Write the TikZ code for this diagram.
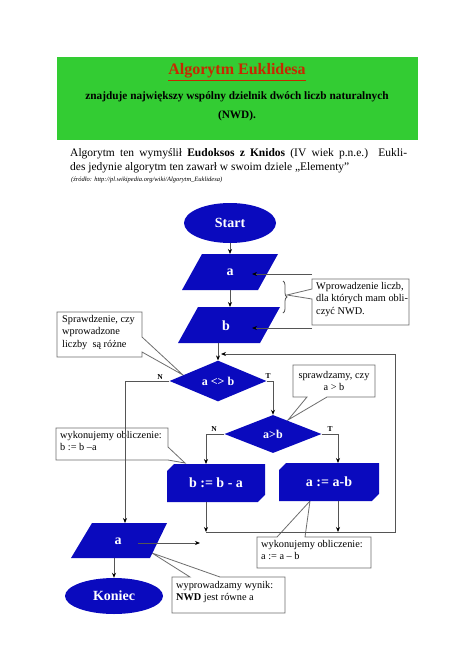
\documentclass[tikz,border=0pt]{standalone}
\usepackage{fontspec}
\setmainfont{Liberation Serif}
\usetikzlibrary{shapes.geometric,shapes.misc,arrows.meta,decorations.pathreplacing}
\definecolor{flowblue}{RGB}{10,10,190}
\definecolor{titlegreen}{RGB}{51,204,51}
\definecolor{titlered}{RGB}{200,40,0}
\definecolor{linegray}{RGB}{85,85,85}
\definecolor{boxgray}{RGB}{110,110,110}
\begin{document}
\begin{tikzpicture}[x=1pt,y=-1pt,
  terminal/.style={ellipse, fill=flowblue, text=white, inner sep=0pt,
    font=\bfseries\fontsize{14}{16}\selectfont},
  decision/.style={diamond, fill=flowblue, text=white, inner sep=0pt,
    minimum width=97pt, minimum height=38pt, font=\bfseries\fontsize{12}{14}\selectfont},
  procbox/.style={chamfered rectangle, chamfered rectangle corners={north west,south east},
    chamfered rectangle xsep=4pt, fill=flowblue, text=white, inner sep=0pt,
    minimum height=38pt, font=\bfseries\fontsize{14}{16}\selectfont},
  iotext/.style={text=white, inner sep=0pt, font=\bfseries\fontsize{14}{16}\selectfont},
  iofill/.style={fill=flowblue},
  arr/.style={draw=linegray, line width=0.8pt, -{Stealth[length=5pt,width=4pt,black]}},
  plain/.style={draw=linegray, line width=0.8pt},
  callout/.style={draw=boxgray, fill=white, line width=0.8pt},
  ctext/.style={inner sep=0pt, font=\fontsize{10.3}{12.6}\selectfont},
  branch/.style={inner sep=0pt, font=\bfseries\fontsize{7.5}{8}\selectfont}
]
\useasboundingbox (0,0) rectangle (474,670);
\fill[white] (0,0) rectangle (474,670);

% header
\fill[titlegreen] (57,57) rectangle (418,140);
\node[text=titlered, font=\bfseries\fontsize{16}{18}\selectfont] (title) at (237,72) {\underline{Algorytm Euklidesa}};
\node[font=\bfseries\fontsize{11.3}{13}\selectfont] (sub1) at (237,97) {znajduje największy wspólny dzielnik dwóch liczb naturalnych};
\node[font=\bfseries\fontsize{11.3}{13}\selectfont] (sub2) at (237,116) {(NWD).};

% paragraph
\node[anchor=north west, inner sep=0pt, text width=337pt, align=justify,
      font=\fontsize{11.5}{14}\selectfont] (para) at (70,148)
  {Algorytm ten wymyślił \textbf{Eudoksos z Knidos} (IV wiek p.n.e.)\ \ Eukli-\linebreak des jedynie algorytm ten zawarł w swoim dziele „Elementy”};
\node[anchor=north west, inner sep=0pt, font=\itshape\fontsize{6.5}{7}\selectfont] (src) at (71,177)
  {(źródło: http://pl.wikipedia.org/wiki/Algorytm\_Euklidesa)};

% callouts
\filldraw[callout] (312,279) -- (409,279) -- (409,325) -- (312,325) -- (312,299) -- (287,295) -- (312,289) -- cycle;
\node[ctext, anchor=north west, align=left] (c1) at (316,282) {Wprowadzenie liczb,\\dla których mam obli-\\czyć NWD.};

\filldraw[callout] (57,312) -- (142,312) -- (142,337) -- (183,375) -- (142,352) -- (142,357) -- (57,357) -- cycle;
\node[ctext, anchor=north west, align=left] (c2) at (62,315) {Sprawdzenie, czy\\wprowadzone\\liczby\ \ są różne};

\filldraw[callout] (293,365) -- (375,365) -- (375,397) -- (327,397) -- (288,420) -- (307,397) -- (293,397) -- cycle;
\node[ctext, align=center] (c3) at (334,381) {sprawdzamy, czy\\a > b};

\filldraw[callout] (56,428) -- (168,428) -- (168,447) -- (185,463) -- (168,460) -- (56,460) -- cycle;
\node[ctext, anchor=north west, align=left] (c4) at (60,431) {wykonujemy obliczenie:\\b := b –a};

\filldraw[callout] (257,537) -- (277,537) -- (310,501) -- (305,537) -- (371,537) -- (371,568) -- (257,568) -- cycle;
\node[ctext, anchor=north west, align=left] (c5) at (261,540) {wykonujemy obliczenie:\\a := a – b};

\filldraw[callout] (172,577) -- (190,577) -- (152,553) -- (220,577) -- (285,577) -- (285,613) -- (172,613) -- cycle;
\node[ctext, anchor=north west, align=left] (c6) at (176,581) {wyprowadzamy wynik:\\\textbf{NWD} jest równe a};

% flow shapes
\node[terminal, minimum width=92pt, minimum height=40pt] (start) at (230,223) {Start};

\fill[iofill] (182,290) -- (258,290) -- (278,254) -- (202,254) -- cycle;
\node[iotext] (a) at (230,272) {a};
\coordinate (aT) at (230,254);
\coordinate (aB) at (230,290);

\fill[iofill] (178,343) -- (260,343) -- (280,307) -- (198,307) -- cycle;
\node[iotext] (b) at (226,326) {b};
\coordinate (bT) at (230,307);
\coordinate (bB) at (218,343);

\node[decision] (d1) at (218,381) {a <> b};
\node[decision] (d2) at (273,434) {a>b};

\node[procbox, minimum width=98pt] (b1) at (216,483) {b := b - a};
\node[procbox, minimum width=100pt] (b2) at (329,482) {a := a-b};

\fill[iofill] (71,558) -- (150,558) -- (167,523) -- (92,523) -- cycle;
\node[iotext] (o) at (118,541) {a};
\coordinate (oT) at (125,523);
\coordinate (oB) at (114,558);
\coordinate (oIn) at (138,543);
\coordinate (oEnd) at (200,543);

\node[terminal, minimum width=98pt, minimum height=36pt] (koniec) at (114,596) {Koniec};

% brace and input markers
\coordinate (aMark) at (252,274);
\coordinate (aMarkR) at (312,274);
\coordinate (bMark) at (252,328);
\coordinate (bMarkR) at (312,328);
\draw[arr] (aMarkR) -- (aMark);
\draw[arr] (bMarkR) -- (bMark);
\coordinate (brT) at (283,281);
\coordinate (brB) at (283,313);
\draw[plain, decorate, decoration={brace, amplitude=4pt}] (brT) -- (brB);

% connectors
\coordinate (b1in) at (206,464);
\coordinate (b1out) at (206,502);
\coordinate (b2in) at (338,463);
\coordinate (b2out) at (338,501);
\coordinate (m1) at (206,532);
\coordinate (m2) at (395,532);
\coordinate (m2b) at (338,532);
\coordinate (loopIn) at (221,354);

\draw[arr] (start) -- (aT);
\draw[arr] (aB) -- (bT);
\draw[arr] (bB) -- (d1.north);
\draw[arr] (d1.west) -| (oT);
\draw[arr] (d1.east) -| (d2.north);
\draw[arr] (d2.west) -| (b1in);
\draw[arr] (d2.east) -| (b2in);
\draw[arr] (b1out) -- (m1);
\draw[arr] (b2out) -- (m2b);
\draw[arr] (m1) -- (m2) |- (loopIn);
\draw[arr] (oIn) -- (oEnd);
\draw[arr] (oB) -- (koniec);

\node[branch] (n1) at (160,377) {N};
\node[branch] (t1) at (268,376) {T};
\node[branch] (n2) at (214,429) {N};
\node[branch] (t2) at (330,429) {T};
\end{tikzpicture}
\end{document}
